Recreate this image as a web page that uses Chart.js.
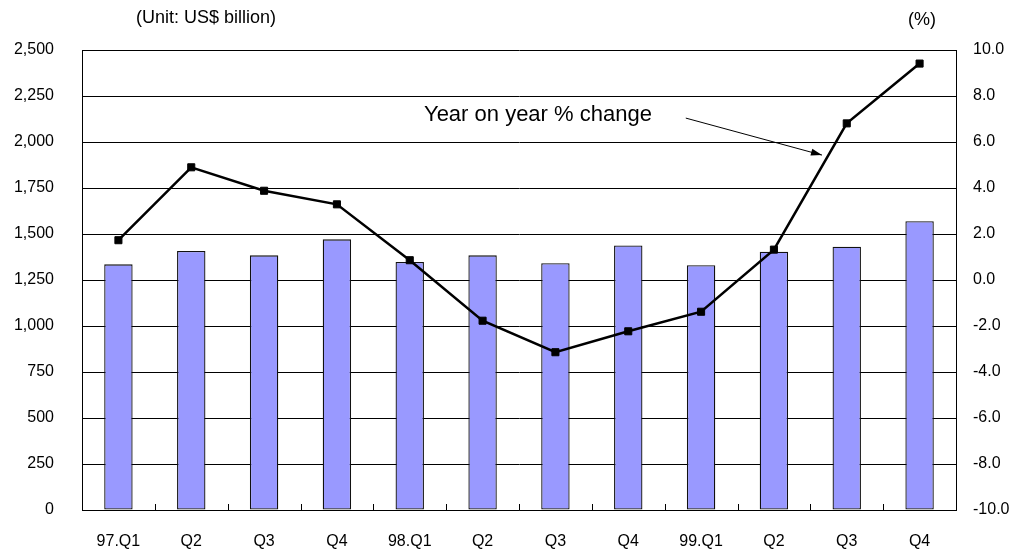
<!DOCTYPE html>
<html>
<head>
<meta charset="utf-8">
<script src="https://cdn.jsdelivr.net/npm/chart.js@4/dist/chart.umd.min.js"></script>
<style>
  html, body { margin: 0; padding: 0; background: #fff; }
  #wrap { width: 1016px; height: 553px; position: relative; }
</style>
</head>
<body>
<div id="wrap"><canvas id="chart"></canvas></div>
<script>
// Datos del gráfico
const quarters = ['97.Q1', 'Q2', 'Q3', 'Q4', '98.Q1', 'Q2', 'Q3', 'Q4', '99.Q1', 'Q2', 'Q3', 'Q4'];
const amountBillion = [1335, 1408, 1384, 1471, 1348, 1384, 1341, 1438, 1330, 1404, 1431, 1569];
const yoyChange = [1.73, 4.9, 3.88, 3.29, 0.86, -1.77, -3.14, -2.23, -1.38, 1.32, 6.81, 9.41];

const FONT = '"Liberation Sans", Arial, sans-serif';

// Textos fijos, flecha y marcas del eje X
const extras = {
    id: 'extras',
    afterDraw(chart) {
        const c = chart.ctx;
        const x = chart.scales.x, y1 = chart.scales.y1;
        const area = chart.chartArea;
        const step = x.getPixelForValue(1) - x.getPixelForValue(0);
        const px = i => x.getPixelForValue(0) + i * step;

        c.save();
        // marcas entre categorías, hacia adentro
        c.strokeStyle = '#000';
        c.lineWidth = 1;
        for (let i = 1; i < quarters.length; i++) {
            const tx = Math.round(px(i - 0.5)) + 0.5;
            c.beginPath();
            c.moveTo(tx, area.bottom);
            c.lineTo(tx, area.bottom - 6);
            c.stroke();
        }

        c.fillStyle = '#000';
        c.textBaseline = 'middle';
        c.textAlign = 'center';
        c.font = '18px ' + FONT;
        c.fillText('(Unit: US$ billion)', 206, 18);
        c.fillText('(%)', 922, 20);

        // etiqueta de la serie
        c.font = '22px ' + FONT;
        c.fillText('Year on year % change', px(5.76), y1.getPixelForValue(7.17));

        // flecha
        const x0 = px(7.79), yA = y1.getPixelForValue(7.04);
        const x1 = px(9.66), yB = y1.getPixelForValue(5.43);
        c.beginPath();
        c.moveTo(x0, yA);
        c.lineTo(x1, yB);
        c.stroke();
        const ang = Math.atan2(yB - yA, x1 - x0);
        c.beginPath();
        c.moveTo(x1, yB);
        c.lineTo(x1 - 11 * Math.cos(ang) + 3.5 * Math.sin(ang), yB - 11 * Math.sin(ang) - 3.5 * Math.cos(ang));
        c.lineTo(x1 - 11 * Math.cos(ang) - 3.5 * Math.sin(ang), yB - 11 * Math.sin(ang) + 3.5 * Math.cos(ang));
        c.closePath();
        c.fill();
        c.restore();
    }
};

const ctx = document.getElementById('chart').getContext('2d');
new Chart(ctx, {
    type: 'bar',
    data: {
        labels: quarters,
        datasets: [{
            type: 'line',
            label: 'Year on year % change',
            data: yoyChange,
            yAxisID: 'y1',
            borderColor: '#000',
            backgroundColor: '#000',
            borderWidth: 2.5,
            pointStyle: 'rect',
            pointRadius: 5,
            pointBorderWidth: 1,
            tension: 0,
            order: 0
        }, {
            label: 'US$ billion',
            data: amountBillion,
            yAxisID: 'y',
            backgroundColor: '#9999FF',
            borderColor: '#111',
            borderWidth: 1.3,
            borderSkipped: false,
            categoryPercentage: 1,
            barPercentage: 0.39,
            order: 1
        }]
    },
    options: {
        responsive: true,
        maintainAspectRatio: false,
        animation: false,
        layout: { padding: { top: 50, left: 0, right: 0, bottom: 0 } },
        plugins: {
            legend: { display: false },
            tooltip: { enabled: false }
        },
        scales: {
            x: {
                grid: { display: false, drawTicks: false },
                border: { display: true, color: '#000', width: 1 },
                ticks: { color: '#000', font: { family: FONT, size: 16 }, padding: 22, maxRotation: 0, autoSkip: false },
                afterFit(s) { s.height = 43; }
            },
            y: {
                position: 'left',
                min: 0,
                max: 2500,
                grid: { color: '#000', lineWidth: 1, drawTicks: false },
                border: { display: true, color: '#000', width: 1 },
                ticks: {
                    stepSize: 250,
                    color: '#000',
                    font: { family: FONT, size: 16 },
                    padding: 28,
                    callback: v => v.toLocaleString('en-US')
                },
                afterFit(s) { s.width = 82; }
            },
            y1: {
                position: 'right',
                min: -10,
                max: 10,
                grid: { display: false, drawTicks: false },
                border: { display: true, color: '#000', width: 1 },
                ticks: {
                    stepSize: 2,
                    color: '#000',
                    font: { family: FONT, size: 16 },
                    padding: 17,
                    callback: v => v.toFixed(1)
                },
                afterFit(s) { s.width = 60; }
            }
        }
    },
    plugins: [extras]
});
</script>
</body>
</html>
